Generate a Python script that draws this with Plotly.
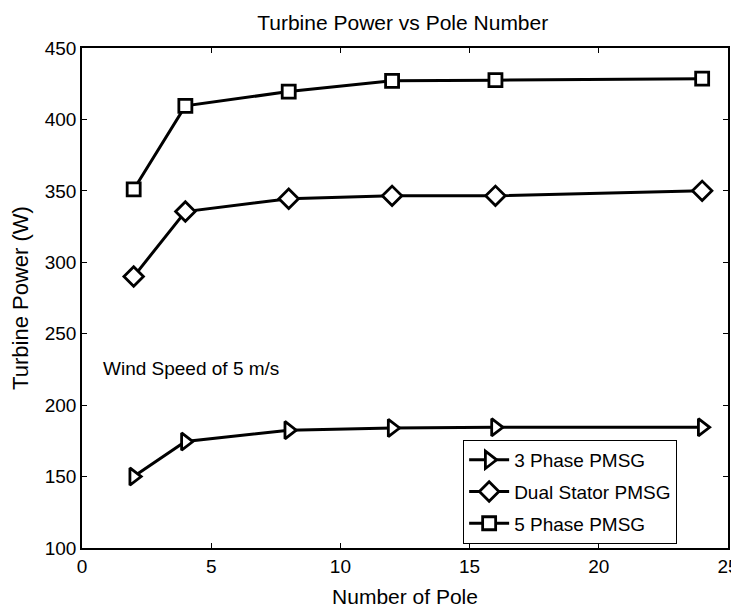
import plotly.graph_objects as go

poles = [2, 4, 8, 12, 16, 24]
three_phase = [150, 174.5, 182.5, 184, 184.5, 184.5]
dual_stator = [290, 335.5, 344.5, 346.5, 346.5, 350]
five_phase = [351, 409.5, 419.5, 427, 427.5, 428.5]

series_names = ["3 Phase PMSG", "Dual Stator PMSG", "5 Phase PMSG"]
series_values = [three_phase, dual_stator, five_phase]
series_symbols = ["triangle-right", "diamond", "square"]
series_sizes = [15, 15, 13]

x_ticks = [0, 5, 10, 15, 20, 25]
y_ticks = [100, 150, 200, 250, 300, 350, 400, 450]

FONT = "Liberation Sans, Arial, sans-serif"

fig = go.Figure()
for i, (name, vals, sym, sz) in enumerate(zip(series_names, series_values, series_symbols, series_sizes)):
    fig.add_trace(go.Scatter(
        x=poles, y=vals, name=name, mode="lines+markers",
        legendgroup=f"g{i}",
        line=dict(color="black", width=3),
        marker=dict(symbol=sym, size=sz, color="white",
                    line=dict(color="black", width=2.8)),
    ))

fig.add_annotation(x=0.75, y=226, xref="x", yref="y", text="Wind Speed of 5 m/s",
                   showarrow=False, xanchor="left", yanchor="middle",
                   font=dict(family=FONT, size=19, color="black"))

axis_common = dict(showline=True, linecolor="black", linewidth=1.5, mirror="ticks",
                   ticks="inside", ticklen=5, tickcolor="black", tickwidth=1,
                   showgrid=False, zeroline=False, automargin=False,
                   tickfont=dict(family=FONT, size=19, color="black"))

fig.update_xaxes(range=[0, 25], tickvals=x_ticks,
                 title=dict(text="Number of Pole", font=dict(family=FONT, size=21, color="black"), standoff=14),
                 **axis_common)
fig.update_yaxes(range=[100, 450], tickvals=y_ticks,
                 title=dict(text="Turbine Power (W)", font=dict(family=FONT, size=22, color="black"), standoff=10),
                 **axis_common)

fig.update_layout(
    width=731, height=604,
    margin=dict(l=74, r=11, t=40, b=64, autoexpand=False),
    paper_bgcolor="white", plot_bgcolor="white",
    title=dict(text="Turbine Power vs Pole Number", x=0.54, xanchor="center", y=0.975, yanchor="middle",
               font=dict(family=FONT, size=21, color="black")),
    legend=dict(x=0.59, y=0.008, xanchor="left", yanchor="bottom",
                bordercolor="black", borderwidth=1, bgcolor="white",
                font=dict(family=FONT, size=19, color="black"),
                tracegroupgap=4, traceorder="grouped", itemwidth=40),
    showlegend=True,
)

fig.write_html("out.html")
